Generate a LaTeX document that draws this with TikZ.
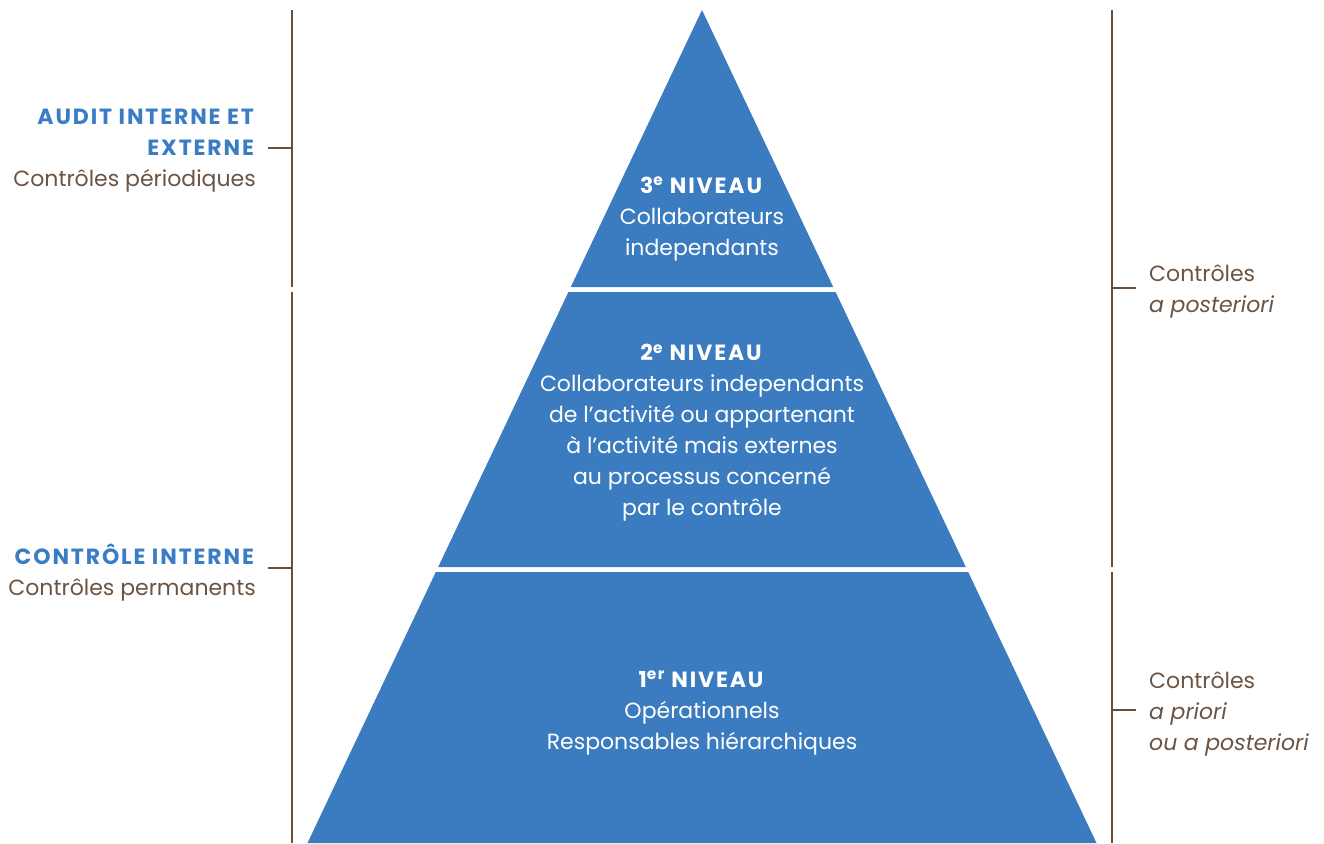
\documentclass[tikz,border=0pt]{standalone}
\usepackage{fontspec}
\setmainfont{Poppins}[BoldFeatures={LetterSpace=8.5}]
\definecolor{pblue}{HTML}{3B7CC0}
\definecolor{lbrown}{HTML}{6B4E37}
\definecolor{tbrown}{HTML}{6B5443}
\definecolor{hblue}{HTML}{3A7DC5}
\tikzset{
  tier/.style={fill=pblue, draw=none},
  bracket/.style={draw=lbrown, line width=2pt},
  tiertext/.style={text=white, align=center, font=\fontsize{22}{31}\selectfont, inner sep=0pt},
  sidetext/.style={text=tbrown, font=\fontsize{22}{31}\selectfont, inner sep=0pt}
}
\begin{document}
\begin{tikzpicture}[x=1pt,y=-1pt]
\useasboundingbox (0,0) rectangle (1324,843);
% pyramid tiers
\fill[tier] (702,10) -- (833.2,287) -- (570.8,287) -- cycle;
\fill[tier] (568.4,292) -- (835.6,292) -- (965.8,567) -- (438.2,567) -- cycle;
\fill[tier] (435.8,572) -- (968.2,572) -- (1096.5,843) -- (307.5,843) -- cycle;
% left brackets
\coordinate (lt1) at (292,10); \coordinate (lb1) at (292,287);
\coordinate (lt2) at (292,292); \coordinate (lb2) at (292,843);
\coordinate (lk1) at (292,148); \coordinate (lk1e) at (268,148);
\coordinate (lk2) at (292,568); \coordinate (lk2e) at (268,568);
\draw[bracket] (lt1) -- (lb1);
\draw[bracket] (lt2) -- (lb2);
\draw[bracket] (lk1) -- (lk1e);
\draw[bracket] (lk2) -- (lk2e);
% right brackets
\coordinate (rt1) at (1112,10); \coordinate (rb1) at (1112,567);
\coordinate (rt2) at (1112,572); \coordinate (rb2) at (1112,843);
\coordinate (rk1) at (1112,288); \coordinate (rk1e) at (1136,288);
\coordinate (rk2) at (1112,710); \coordinate (rk2e) at (1136,710);
\draw[bracket] (rt1) -- (rb1);
\draw[bracket] (rt2) -- (rb2);
\draw[bracket] (rk1) -- (rk1e);
\draw[bracket] (rk2) -- (rk2e);
% tier texts
\node[tiertext] (t3) at (702,219) {\textbf{3\textsuperscript{e} NIVEAU}\\Collaborateurs\\independants};
\node[tiertext] (t2) at (702,433) {\textbf{2\textsuperscript{e} NIVEAU}\\Collaborateurs independants\\de l’activité ou appartenant\\à l’activité mais externes\\au processus concerné\\par le contrôle};
\node[tiertext] (t1) at (702,713) {\textbf{1\textsuperscript{er} NIVEAU}\\Opérationnels\\Responsables hiérarchiques};
% left texts
\node[sidetext, anchor=east, align=right] (l1) at (256,151) {\textcolor{hblue}{\textbf{AUDIT INTERNE ET}}\\\textcolor{hblue}{\textbf{EXTERNE}}\\Contrôles périodiques};
\node[sidetext, anchor=east, align=right] (l2) at (256,573) {\textcolor{hblue}{\textbf{CONTRÔLE INTERNE}}\\Contrôles permanents};
% right texts
\node[sidetext, anchor=west, align=left] (r1) at (1149,292) {Contrôles\\\textit{a posteriori}};
\node[sidetext, anchor=west, align=left] (r2) at (1149,714) {Contrôles\\\textit{a priori}\\\textit{ou a posteriori}};
\end{tikzpicture}
\end{document}
